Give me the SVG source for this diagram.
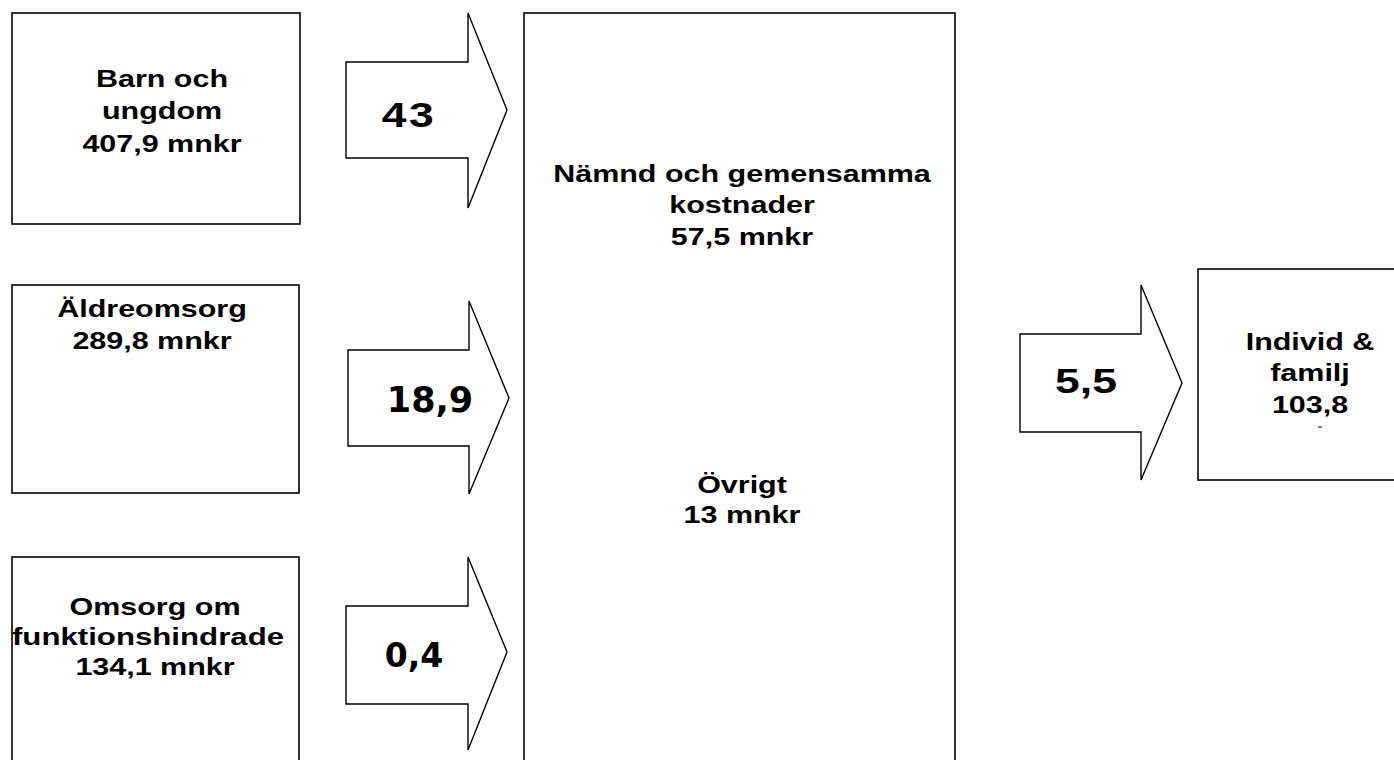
<svg xmlns="http://www.w3.org/2000/svg" width="1394" height="760" viewBox="0 0 1394 760">
<style>
.box{fill:#fff;stroke:#000;stroke-width:1.6}
.arr{fill:#fff;stroke:#000;stroke-width:1.4;stroke-linejoin:miter}
.lbl{font-family:"Liberation Sans",Arial,sans-serif;font-weight:bold;font-size:24px;fill:#000;text-anchor:middle}
.num{font-family:"Liberation Sans",Arial,sans-serif;font-weight:bold;font-size:35px;fill:#000;text-anchor:middle}
.numv{font-family:"DejaVu Sans",Verdana,sans-serif;font-weight:bold;fill:#000;text-anchor:middle}
</style>
<rect width="1394" height="760" fill="#fff"/>
<g id="connectors">
<polygon class="arr" points="346,62 468,62 468,13 507,110 468,208 468,158 346,158"/>
<polygon class="arr" points="348,350 469,350 469,301 509,398 469,494 469,446 348,446"/>
<polygon class="arr" points="346,606 468,606 468,557 507,652 468,750 468,704 346,704"/>
<polygon class="arr" points="1020,334 1141,334 1141,285 1182,383 1141,480 1141,432 1020,432"/>
<g transform="translate(409,0) scale(1.27,1)"><text class="num" x="0" y="127" letter-spacing="2">43</text></g>
<text class="numv" x="430" y="412" font-size="35">18,9</text>
<text class="numv" x="414" y="667" font-size="33">0,4</text>
<g transform="translate(1086,0) scale(1.27,1)"><text class="num" x="0" y="393">5,5</text></g>
</g>
<g id="barn">
<rect class="box" x="12" y="13" width="288" height="211"/>
<g transform="translate(162,0) scale(1.27,1)">
<text class="lbl" x="0" y="87">Barn och</text>
<text class="lbl" x="0" y="119">ungdom</text>
<text class="lbl" x="0" y="152">407,9 mnkr</text>
</g>
</g>
<g id="aldre">
<rect class="box" x="12" y="285" width="287" height="208"/>
<g transform="translate(152,0) scale(1.27,1)">
<text class="lbl" x="0" y="317">Äldreomsorg</text>
<text class="lbl" x="0" y="349">289,8 mnkr</text>
</g>
</g>
<g id="omsorg">
<rect class="box" x="12" y="557" width="287" height="220"/>
<g transform="translate(155,0) scale(1.27,1)">
<text class="lbl" x="0" y="615">Omsorg om</text>
<text class="lbl" x="0" y="675">134,1 mnkr</text>
</g>
<g transform="translate(148,0) scale(1.3,1)">
<text class="lbl" x="0" y="645">funktionshindrade</text>
</g>
</g>
<g id="namnd">
<rect class="box" x="524" y="13" width="431" height="760"/>
<g transform="translate(742,0) scale(1.27,1)">
<text class="lbl" x="0" y="182">Nämnd och gemensamma</text>
<text class="lbl" x="0" y="213">kostnader</text>
<text class="lbl" x="0" y="245">57,5 mnkr</text>
<text class="lbl" x="0" y="493">Övrigt</text>
<text class="lbl" x="0" y="523">13 mnkr</text>
</g>
</g>
<g id="individ">
<rect class="box" x="1198" y="269" width="200" height="211"/>
<g transform="translate(1310,0) scale(1.27,1)">
<text class="lbl" x="0" y="350">Individ &amp;</text>
<text class="lbl" x="0" y="381">familj</text>
<text class="lbl" x="0" y="413">103,8</text>
</g>
<line x1="1318" y1="427" x2="1322" y2="427" stroke="#000" stroke-width="1"/>
</g>
</svg>
